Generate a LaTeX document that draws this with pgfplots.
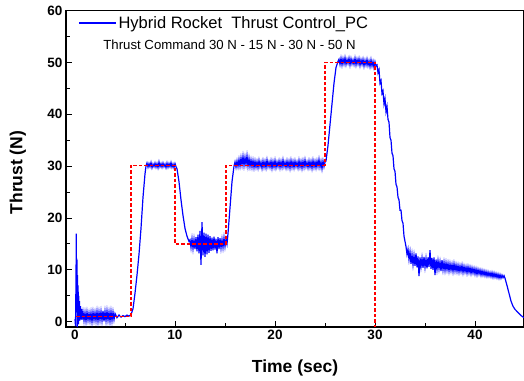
\documentclass[border=0pt]{standalone}
\usepackage{fontspec}
\setmainfont{Liberation Sans}
\usepackage{pgfplots}
\pgfplotsset{compat=1.18}
\begin{document}
\begin{tikzpicture}
\begin{axis}[
 name=main,
 scale only axis, width=458pt, height=316.5pt,
 xmin=-0.9, xmax=44.9, ymin=-1, ymax=60,
 xtick={0,10,20,30,40}, ytick={0,10,...,60},
 minor xtick={5,15,25,35}, minor ytick={5,15,...,55},
 tick align=inside, xtick pos=bottom, ytick pos=left,
 major tick length=6pt, minor tick length=4pt,
 axis line style={line width=1.3pt},
 every tick/.style={line width=1pt, black},
 ticklabel style={font=\bfseries\fontsize{13.5}{15}\selectfont},
 /pgf/number format/assume math mode=true,
 xlabel={Time (sec)}, ylabel={Thrust (N)},
 label style={font=\bfseries\fontsize{17.5}{20}\selectfont},
 xlabel style={at={(axis description cs:0.5,0)}, anchor=center, yshift=-41pt},
 ylabel style={at={(axis description cs:-0.105,0.488)}, anchor=center},
 legend style={draw=none, fill=none, at={(rel axis cs:0.02,0.995)}, anchor=north west, font=\fontsize{16.5}{18}\selectfont},
 legend cell align=left,
 legend image code/.code={\draw[color=blue, line width=1.2pt] (0pt,0pt) -- (37pt,0pt);},
]
\addplot[color=blue, line width=1.2pt] table {
0.00 0.5
0.05 -0.8
0.10 8
0.13 17
0.16 3
0.19 12
0.22 -1
0.25 9
0.28 0
0.31 7
0.34 -0.5
0.37 5
0.40 0.2
0.45 4
0.50 0.3
0.55 3
0.60 0.5
0.65 2.5
0.70 0.4
0.8 1.9
0.9 0.2
1.0 1.8
1.1 0.1
1.2 1.9
1.3 0.3
1.4 1.7
1.5 0.2
1.6 1.8
1.7 0.0
1.8 1.9
1.9 0.3
2.0 1.8
2.1 0.2
2.2 2.0
2.3 0.1
2.4 1.9
2.5 0.3
2.6 2.0
2.7 0.2
2.8 2.1
2.9 0.1
3.0 2.0
3.1 0.2
3.2 2.1
3.3 0.3
3.4 1.9
3.5 0.1
3.6 2.0
3.7 0.2
3.8 1.9
3.9 0.4
4.0 1.6
4.2 0.8
4.4 1.3
4.6 0.9
4.8 1.2
5.0 1.0
5.2 1.3
5.4 1.1
5.6 1.4
5.8 2.5
6.0 5.5
6.2 9
6.4 13
6.6 18
6.8 24
7.0 28.5
7.1 30.0
7.2 30.6
7.3 29.8
7.4 30.5
7.5 29.9
7.6 30.7
7.7 29.7
7.8 30.4
7.9 29.9
8.0 30.6
8.1 29.8
8.2 30.5
8.3 29.7
8.4 30.8
8.5 29.9
8.6 30.5
8.7 29.8
8.8 30.6
8.9 29.9
9.0 30.4
9.1 29.7
9.2 30.6
9.3 29.8
9.4 30.5
9.5 29.9
9.6 30.7
9.7 29.8
9.8 30.4
9.9 29.7
10.0 30.5
10.1 29.9
10.2 29.5
10.4 27
10.6 23.5
10.8 20.5
11.0 18
11.2 16.5
11.4 15.5
11.5 15.8
11.6 14.3
11.7 16.0
11.8 14.1
11.9 15.9
12.0 14.0
12.1 16.3
12.2 13.6
12.3 16.8
12.4 13.2
12.5 17.5
12.6 11.0
12.7 19.2
12.8 12.8
12.9 17.2
13.0 12.5
13.1 17.0
13.2 13.0
13.3 16.8
13.4 13.3
13.5 16.5
13.6 13.7
13.7 16.2
13.8 13.8
13.9 16.4
14.0 13.9
14.1 16.0
14.2 13.2
14.3 16.3
14.4 14.0
14.5 16.1
14.6 14.2
14.7 15.9
14.8 14.3
14.9 16.2
15.0 14.5
15.1 16.0
15.2 15.0
15.3 17
15.5 22
15.7 27
15.9 30
16.0 30.8
16.1 29.8
16.2 31.0
16.3 29.9
16.4 31.3
16.5 30.0
16.6 31.6
16.7 30.2
16.8 31.9
16.9 30.1
17.0 31.7
17.1 30.3
17.2 32.0
17.3 30.0
17.4 31.5
17.5 29.9
17.6 31.2
17.7 29.8
17.8 31.1
17.9 29.7
18.0 31.0
18.1 29.8
18.2 30.9
18.3 29.7
18.4 31.1
18.5 29.9
18.6 30.8
18.7 29.6
18.8 31.0
18.9 29.8
19.0 30.9
19.1 29.7
19.2 31.2
19.3 29.9
19.4 30.8
19.5 29.8
19.6 31.0
19.7 29.6
19.8 30.9
19.9 29.8
20.0 31.1
20.1 29.7
20.2 30.8
20.3 29.9
20.4 31.0
20.5 29.7
20.6 30.9
20.7 29.8
20.8 31.2
20.9 29.9
21.0 30.8
21.1 29.7
21.2 31.0
21.3 29.8
21.4 30.9
21.5 29.6
21.6 31.1
21.7 29.8
21.8 30.9
21.9 29.7
22.0 31.0
22.1 29.9
22.2 30.8
22.3 29.7
22.4 31.1
22.5 29.8
22.6 30.9
22.7 29.6
22.8 31.0
22.9 29.8
23.0 31.2
23.1 29.9
23.2 30.8
23.3 29.7
23.4 31.0
23.5 29.8
23.6 30.9
23.7 29.6
23.8 31.1
23.9 29.8
24.0 30.9
24.1 29.7
24.2 31.0
24.3 29.9
24.4 31.3
24.5 29.8
24.6 30.9
24.7 29.5
24.8 31.0
24.9 29.9
25.0 30.8
25.1 31
25.3 34
25.5 38
25.7 42
25.9 46
26.1 49
26.3 50.2
26.4 50.6
26.5 49.6
26.6 50.8
26.7 49.5
26.8 50.7
26.9 49.7
27.0 50.9
27.1 49.6
27.2 50.6
27.3 49.8
27.4 50.8
27.5 49.5
27.6 50.7
27.7 49.7
27.8 50.5
27.9 49.6
28.0 50.8
28.1 49.5
28.2 50.6
28.3 49.7
28.4 50.7
28.5 49.4
28.6 50.5
28.7 49.6
28.8 50.6
28.9 49.3
29.0 50.4
29.1 49.5
29.2 50.6
29.3 49.4
29.4 50.3
29.5 49.2
29.6 50.5
29.7 49.3
29.8 50.2
29.9 49.0
30.0 50.1
30.1 49.3
30.2 49.5
30.3 48.0
30.4 48.6
30.5 46.0
30.6 46.5
30.7 44.0
30.8 44.5
30.9 42.0
31.0 43.0
31.1 40.5
31.2 41.5
31.3 39.0
31.4 38.5
31.5 35.5
31.6 35.0
31.7 32.5
31.8 32.0
31.9 29.5
32.0 29.0
32.1 26.5
32.2 26.0
32.3 24.0
32.4 23.5
32.5 21.5
32.6 21.5
32.7 19.5
32.8 19.0
32.9 16.5
33.0 15.5
33.1 14.5
33.2 13.0
33.3 14.0
33.4 12.0
33.5 13.5
33.6 11.2
33.7 13.0
33.8 11.0
33.9 12.8
34.0 10.8
34.1 13.2
34.2 10.5
34.3 12.6
34.4 8.8
34.5 12.4
34.6 10.6
34.7 12.3
34.8 10.4
34.9 12.5
35.0 10.5
35.1 12.2
35.2 10.3
35.3 12.4
35.4 10.6
35.5 13.8
35.6 10.2
35.7 12.3
35.8 10.0
35.9 12.4
36.0 9.0
36.1 12.0
36.2 10.1
36.3 11.8
36.4 10.2
36.5 11.6
36.6 9.8
36.7 11.9
36.8 10.0
36.9 11.5
37.0 9.9
37.1 11.4
37.2 10.0
37.3 11.3
37.4 9.8
37.5 11.2
37.6 9.9
37.7 11.1
37.8 9.7
37.9 11.2
38.0 9.8
38.1 11.0
38.2 9.7
38.3 10.9
38.4 9.6
38.5 10.8
38.6 9.7
38.7 10.9
38.8 9.5
38.9 10.7
39.0 9.6
39.1 10.6
39.2 9.4
39.3 10.6
39.4 9.5
39.5 10.5
39.6 9.3
39.7 10.4
39.8 9.4
39.9 10.3
40.0 9.2
40.1 10.2
40.2 9.1
40.3 10.1
40.4 9.2
40.5 10.0
40.6 9.0
40.7 9.9
40.8 9.0
40.9 9.8
41.0 8.9
41.1 9.7
41.2 8.8
41.3 9.6
41.4 8.8
41.5 9.5
41.6 8.7
41.7 9.5
41.8 8.6
41.9 9.4
42.0 8.6
42.1 9.3
42.2 8.5
42.3 9.2
42.4 8.4
42.5 9.1
42.6 8.4
42.7 9.0
42.8 8.5
42.9 8.9
43.0 8.4
43.2 7.0
43.4 5.5
43.6 4.0
43.8 3.0
44.0 2.4
44.3 1.8
44.6 1.2
44.9 0.8
};
\addlegendentry{Hybrid Rocket~ Thrust Control\_PC}
\addplot[color=red, line width=1.2pt, dash pattern=on 3.5pt off 2pt, forget plot] coordinates {
(0.1,1.0) (5.6,1.0) (5.6,30.2) (10.0,30.2) (10.0,15.0) (15.1,15.0) (15.1,30.2) (25.0,30.2) (25.0,50.0) (30.0,50.0) (30.0,-1)
};
\node[anchor=west, font=\fontsize{13.2}{15}\selectfont] at (rel axis cs:0.074,0.893) {Thrust Command 30 N - 15 N - 30 N - 50 N};
\end{axis}
\pgfresetboundingbox
\path (main.south west) ++(-66pt,-53pt) rectangle ([yshift=10.5pt]main.north east);
\end{tikzpicture}
\end{document}
